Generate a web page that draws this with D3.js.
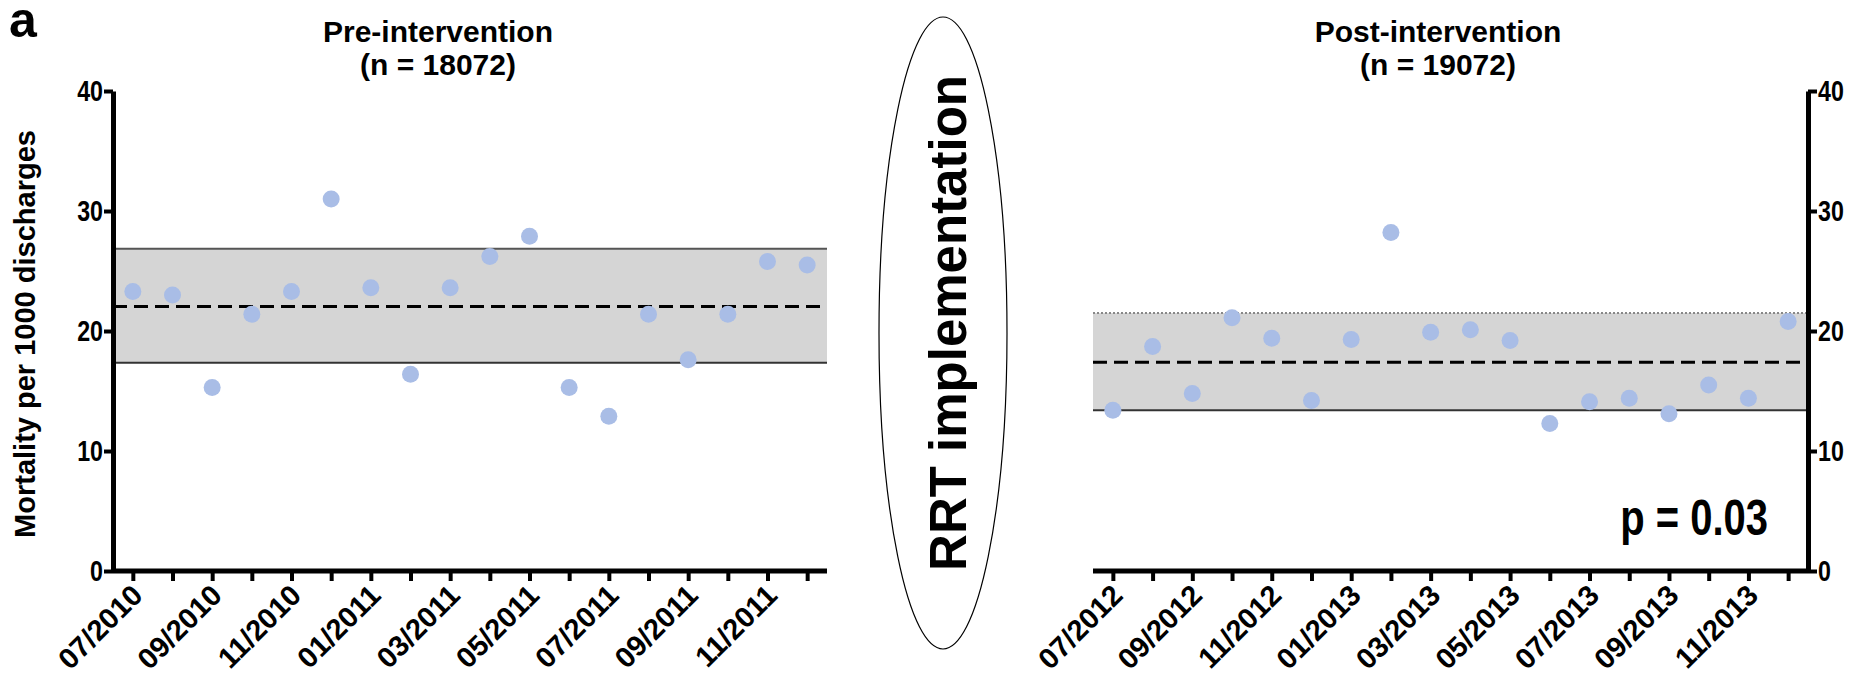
<!DOCTYPE html>
<html>
<head>
<meta charset="utf-8">
<script src="https://cdn.jsdelivr.net/npm/d3@7"></script>
<style>
  body { margin: 0; background: #fff; }
  svg text { font-family: "Liberation Sans", Arial, sans-serif; font-weight: bold; }
</style>
</head>
<body>
<div id="svgContainer"></div>
<script>
// Monthly mortality per 1000 discharges
const preMonths = ["07/2010", "08/2010", "09/2010", "10/2010", "11/2010", "12/2010",
  "01/2011", "02/2011", "03/2011", "04/2011", "05/2011", "06/2011",
  "07/2011", "08/2011", "09/2011", "10/2011", "11/2011", "12/2011"];
const preValues = [23.3, 23.0, 15.3, 21.4, 23.3, 31.0, 23.6, 16.4, 23.6, 26.2, 27.9, 15.3,
  12.9, 21.4, 17.6, 21.4, 25.8, 25.5];
const preBand = [17.35, 26.85];
const preMean = 22.05;

const postMonths = ["07/2012", "08/2012", "09/2012", "10/2012", "11/2012", "12/2012",
  "01/2013", "02/2013", "03/2013", "04/2013", "05/2013", "06/2013",
  "07/2013", "08/2013", "09/2013", "10/2013", "11/2013", "12/2013"];
const postValues = [13.4, 18.7, 14.8, 21.1, 19.4, 14.2, 19.3, 28.2, 19.9, 20.1, 19.2, 12.3,
  14.1, 14.4, 13.1, 15.5, 14.4, 20.8];
const postBand = [13.4, 21.5];
const postMean = 17.4;

const yTicks = [0, 10, 20, 30, 40];

const width = 1851;
const height = 679;
const svg = d3.select("#svgContainer").append("svg")
  .attr("width", width)
  .attr("height", height);

const y = d3.scaleLinear().domain([0, 40]).range([571, 91]);

// squeeze a text sideways, the figure uses a narrow face
function condense(sel, k) {
  sel.each(function() {
    const len = this.getComputedTextLength();
    d3.select(this)
      .attr("textLength", len * k)
      .attr("lengthAdjust", "spacingAndGlyphs");
  });
}

// panel label
svg.append("text")
  .attr("x", 9)
  .attr("y", 37)
  .attr("font-size", "50px")
  .text("a");

function drawPanel(opts) {
  const x = d3.scalePoint()
    .domain(opts.months)
    .range(opts.range)
    .padding(0.5);
  const g = svg.append("g");

  // shaded band between limits
  g.append("rect")
    .attr("x", opts.range[0])
    .attr("y", y(opts.band[1]))
    .attr("width", opts.range[1] - opts.range[0])
    .attr("height", y(opts.band[0]) - y(opts.band[1]))
    .attr("fill", "#d5d5d5");
  g.append("line")
    .attr("x1", opts.range[0]).attr("x2", opts.range[1])
    .attr("y1", y(opts.band[1])).attr("y2", y(opts.band[1]))
    .attr("stroke", opts.topDotted ? "#888" : "#555")
    .attr("stroke-width", 2)
    .attr("stroke-dasharray", opts.topDotted ? "2,2" : null);
  g.append("line")
    .attr("x1", opts.range[0]).attr("x2", opts.range[1])
    .attr("y1", y(opts.band[0])).attr("y2", y(opts.band[0]))
    .attr("stroke", "#333")
    .attr("stroke-width", 2);
  // mean
  g.append("line")
    .attr("x1", opts.range[0]).attr("x2", opts.range[1])
    .attr("y1", y(opts.mean)).attr("y2", y(opts.mean))
    .attr("stroke", "#000")
    .attr("stroke-width", 3)
    .attr("stroke-dasharray", "14,7");

  // points
  g.selectAll("circle")
    .data(opts.values)
    .join("circle")
    .attr("cx", (d, i) => x(opts.months[i]))
    .attr("cy", d => y(d))
    .attr("r", 8.5)
    .attr("fill", "#a9bde6");

  // x axis
  const xAxis = g.append("g")
    .attr("transform", `translate(0, ${y(0)})`)
    .call(d3.axisBottom(x)
      .tickSizeOuter(0)
      .tickSizeInner(10)
      .tickFormat((d, i) => i % 2 === 0 ? d : ""));
  xAxis.select(".domain")
    .attr("stroke-width", 5)
    .attr("d", `M${opts.range[0]},0H${opts.range[1]}`);
  xAxis.selectAll(".tick line").attr("stroke-width", 4);
  xAxis.selectAll(".tick text")
    .attr("y", null)
    .attr("dy", null)
    .attr("font-size", "29px")
    .attr("fill", "#000")
    .attr("text-anchor", "end")
    .attr("transform", "translate(11, 26) rotate(-45)");

  // y axis
  const axisFn = opts.yRight ? d3.axisRight(y) : d3.axisLeft(y);
  const yAxis = g.append("g")
    .attr("transform", `translate(${opts.yRight ? opts.range[1] : opts.range[0]}, 0)`)
    .call(axisFn.tickValues(yTicks).tickSizeOuter(0).tickSizeInner(9).tickPadding(1));
  yAxis.select(".domain").attr("stroke-width", 5);
  yAxis.selectAll(".tick line").attr("stroke-width", 4);
  yAxis.selectAll(".tick text")
    .attr("font-size", "29px")
    .attr("fill", "#000")
    .call(condense, 0.8);

  // title
  const cx = opts.titleX;
  svg.append("text")
    .attr("x", cx).attr("y", 42)
    .attr("text-anchor", "middle")
    .attr("font-size", "30px")
    .text(opts.title);
  svg.append("text")
    .attr("x", cx).attr("y", 75)
    .attr("text-anchor", "middle")
    .attr("font-size", "30px")
    .text(opts.subtitle);
}

drawPanel({
  months: preMonths, values: preValues, band: preBand, mean: preMean,
  range: [113, 827], yRight: false, topDotted: false,
  title: "Pre-intervention", subtitle: "(n = 18072)", titleX: 438
});
drawPanel({
  months: postMonths, values: postValues, band: postBand, mean: postMean,
  range: [1093, 1808], yRight: true, topDotted: true,
  title: "Post-intervention", subtitle: "(n = 19072)", titleX: 1438
});

// y axis title
svg.append("text")
  .attr("transform", "translate(35, 334) rotate(-90)")
  .attr("text-anchor", "middle")
  .attr("font-size", "29px")
  .text("Mortality per 1000 discharges");

// implementation marker
svg.append("ellipse")
  .attr("cx", 943).attr("cy", 333)
  .attr("rx", 64).attr("ry", 316)
  .attr("fill", "none")
  .attr("stroke", "#000")
  .attr("stroke-width", 1.2);
svg.append("text")
  .attr("transform", "translate(966, 323) rotate(-90)")
  .attr("text-anchor", "middle")
  .attr("font-size", "51px")
  .text("RRT implementation");

svg.append("text")
  .attr("x", 1768).attr("y", 535)
  .attr("text-anchor", "end")
  .attr("font-size", "50px")
  .text("p = 0.03")
  .call(condense, 0.8);
</script>
</body>
</html>
